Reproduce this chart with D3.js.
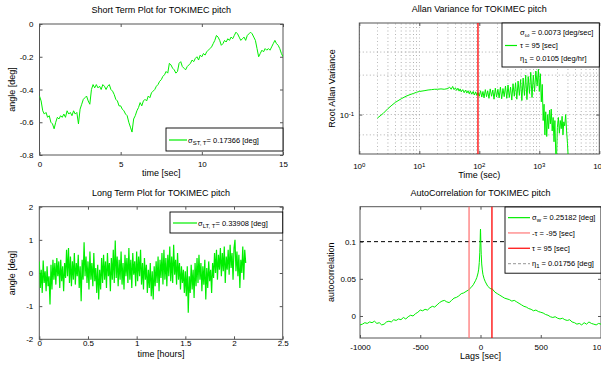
<!DOCTYPE html>
<html>
<head>
<meta charset="utf-8">
<script src="https://cdn.jsdelivr.net/npm/d3@7"></script>
<style>
  body { margin: 0; background: #fff; }
  svg text { font-family: "Liberation Sans", Arial, sans-serif; font-size: 8px; fill: #000; }
  svg text.lbl { font-size: 9px; }
</style>
</head>
<body>
<div id="wrapper"></div>
<script>
// ---- data ----
const sensor = "TOKIMEC pitch";

// short term: angle [deg] sampled every 0.1 s
const shortStep = 0.1;
const shortAngle = [
  -0.44,-0.47,-0.53,-0.55,-0.54,-0.57,-0.56,-0.6,-0.61,-0.64,
  -0.6,-0.57,-0.58,-0.56,-0.57,-0.55,-0.57,-0.53,-0.55,-0.54,
  -0.56,-0.53,-0.55,-0.54,-0.61,-0.52,-0.49,-0.46,-0.45,-0.44,
  -0.47,-0.49,-0.4,-0.37,-0.39,-0.37,-0.39,-0.38,-0.4,-0.37,
  -0.38,-0.4,-0.38,-0.37,-0.4,-0.41,-0.43,-0.46,-0.47,-0.5,
  -0.5,-0.52,-0.53,-0.55,-0.56,-0.6,-0.63,-0.66,-0.58,-0.56,
  -0.53,-0.51,-0.48,-0.5,-0.47,-0.46,-0.47,-0.44,-0.45,-0.42,
  -0.41,-0.4,-0.38,-0.37,-0.35,-0.34,-0.32,-0.31,-0.29,-0.3,
  -0.24,-0.25,-0.27,-0.28,-0.3,-0.29,-0.24,-0.23,-0.26,-0.27,
  -0.28,-0.26,-0.25,-0.24,-0.22,-0.23,-0.21,-0.2,-0.22,-0.19,
  -0.2,-0.18,-0.19,-0.17,-0.16,-0.15,-0.14,-0.12,-0.1,-0.07,
  -0.08,-0.1,-0.13,-0.12,-0.1,-0.11,-0.09,-0.1,-0.08,-0.09,
  -0.07,-0.05,-0.06,-0.08,-0.1,-0.09,-0.08,-0.1,-0.07,-0.06,
  -0.05,-0.06,-0.08,-0.1,-0.15,-0.2,-0.18,-0.16,-0.17,-0.15,
  -0.16,-0.15,-0.16,-0.14,-0.12,-0.1,-0.12,-0.13,-0.15,-0.18,
  -0.2
];

// long term: angle [deg] sampled every 0.01 h
const longStep = 0.01;
const longAngle = [
  0.35,-0.45,0.1,-0.6,0.38,-0.3,0.05,-0.55,0.2,-0.4,
  -0.1,-0.95,0.25,-0.5,0.4,-0.2,0.3,-0.35,0.45,-0.1,
  0.35,-0.45,0.4,-0.25,0.2,-0.55,0.3,-0.15,0.7,-0.1,
  0.75,-0.3,0.5,-0.4,0.35,-0.2,0.6,-0.35,0.3,-0.1,
  0.55,-0.45,0.2,-0.85,0.4,-0.2,0.93,-0.1,0.5,-0.3,
  0.35,-0.5,0.65,-0.2,0.3,-0.4,0.6,-0.25,0.15,-0.6,
  0.25,-0.8,0.1,-0.5,0.45,-0.3,0.55,-0.2,0.35,-0.45,
  0.6,-0.1,0.3,-0.55,0.45,-0.2,0.7,-0.3,0.98,-0.15,
  0.5,-0.4,0.4,-0.2,0.65,-0.35,0.3,-0.5,0.55,-0.1,
  0.45,-0.3,0.75,-0.2,0.4,-0.45,0.6,-0.05,0.35,-0.4,
  0.65,-0.25,0.5,-0.1,0.7,-0.35,0.3,-0.5,0.45,-0.2,
  0.25,-0.6,0.1,-0.45,0.3,-0.7,0.05,-0.8,0.2,-0.4,
  0.35,-0.3,0.5,-0.55,0.4,-0.15,0.6,-0.35,0.7,-0.2,
  0.45,-0.4,0.55,-0.1,0.8,-0.25,0.5,-0.3,0.85,-0.05,
  0.4,-0.35,0.6,-0.2,0.3,-0.5,0.2,-0.3,0.1,-0.6,
  0.05,-0.7,0.2,-1.2,-0.1,-0.6,0.25,-0.5,0.1,-0.75,
  0.3,-0.4,0.45,-0.3,0.55,-0.2,0.3,-0.55,0.2,-0.35,
  0.4,-0.8,0.15,-0.45,0.35,-0.25,0.1,-0.6,0.3,-0.15,
  0.6,0.0,0.7,-0.2,0.55,0.1,0.75,-0.1,0.6,0.05,
  0.8,-0.3,0.5,0.1,0.7,-0.05,0.85,0.15,0.6,-0.2,
  0.75,1.0,0.05,0.65,-0.1,0.55,-0.45,0.4,0.0,0.8,
  -0.2,0.7,0.3
];

// allan deviation vs cluster time [sec]
const allanTau = [
  2,2.5,3,3.5,4,5,6,7,8,9,
  10,12,14,16,18,20,23,26,30,32,
  34,36,38,40,42,44,46,48,50,53,
  56,59,62,65,68,71,75,79,83,87,
  91,95,100,105,110,115,120,126,132,138,
  145,152,160,168,176,185,194,204,214,225,
  236,248,260,273,287,301,316,332,348,365,
  383,402,422,443,465,488,512,538,565,593,
  622,653,686,720,756,794,834,876,920,966,
  1000,1040,1080,1120,1160,1200,1240,1280,1330,1380,
  1430,1480,1530,1580,1640,1700,1760,1820,1880,1940,
  2000,2080,2160,2240,2320,2400,2480,2560,2650,2750,
  2850,2950,3050,3150
];
const allanDev = [
  0.094,0.102,0.111,0.118,0.124,0.132,0.138,0.142,0.145,0.148,
  0.150,0.152,0.154,0.155,0.156,0.156,0.157,0.156,0.158,0.162,
  0.156,0.164,0.155,0.160,0.153,0.159,0.151,0.157,0.149,0.155,
  0.147,0.154,0.146,0.152,0.144,0.151,0.143,0.150,0.141,0.149,
  0.140,0.147,0.138,0.152,0.136,0.150,0.134,0.155,0.137,0.152,
  0.133,0.157,0.138,0.154,0.131,0.159,0.136,0.156,0.134,0.162,
  0.132,0.158,0.137,0.165,0.133,0.168,0.135,0.162,0.129,0.172,
  0.138,0.175,0.131,0.180,0.140,0.185,0.128,0.190,0.140,0.200,
  0.130,0.195,0.145,0.210,0.135,0.200,0.150,0.215,0.165,0.222,
  0.150,0.205,0.125,0.170,0.090,0.120,0.070,0.105,0.068,0.100,
  0.078,0.108,0.085,0.110,0.075,0.095,0.062,0.090,0.050,0.047,
  0.080,0.095,0.072,0.090,0.078,0.097,0.070,0.088,0.082,0.100,
  0.075,0.060,0.045,0.040
];
const allanGridY = [0.07, 0.1, 0.2, 0.3];

// autocorrelation vs lag [sec]
const acLags = [
  -1000,-980,-960,-940,-920,-900,-880,-860,-840,-820,
  -800,-780,-760,-740,-720,-700,-680,-660,-640,-620,
  -600,-580,-560,-540,-520,-500,-480,-460,-440,-420,
  -400,-380,-360,-340,-320,-300,-280,-260,-240,-220,
  -200,-180,-160,-140,-120,-100,-80,-60,-40,-30,
  -20,-15,-10,-6,-3,-1,0,1,3,6,
  10,15,20,30,40,60,80,100,120,140,
  160,180,200,220,240,260,280,300,320,340,
  360,380,400,420,440,460,480,500,520,540,
  560,580,600,620,640,660,680,700,720,740,
  760,780,800,820,840,860,880,900,920,940,
  960,980,1000
];
const acValues = [
  -0.012,-0.011,-0.009,-0.010,-0.008,-0.009,-0.007,-0.010,-0.009,-0.012,
  -0.011,-0.008,-0.007,-0.008,-0.005,-0.006,-0.004,-0.005,-0.002,-0.004,
  -0.001,0.001,0.000,0.003,0.005,0.008,0.007,0.009,0.008,0.011,
  0.013,0.012,0.015,0.018,0.020,0.021,0.019,0.018,0.021,0.024,
  0.025,0.027,0.030,0.031,0.033,0.035,0.038,0.042,0.048,0.052,
  0.058,0.063,0.072,0.085,0.100,0.114,0.117,0.112,0.098,0.083,
  0.070,0.062,0.056,0.050,0.046,0.040,0.037,0.036,0.032,0.030,
  0.028,0.026,0.024,0.023,0.022,0.020,0.021,0.019,0.017,0.015,
  0.013,0.012,0.010,0.009,0.007,0.008,0.006,0.005,0.004,0.002,
  0.001,-0.001,-0.002,-0.001,-0.003,-0.004,-0.003,-0.005,-0.006,-0.005,
  -0.008,-0.009,-0.011,-0.010,-0.012,-0.009,-0.011,-0.008,-0.010,-0.011,
  -0.012,-0.010,-0.011
];
const corrTime = 95;      // [sec]
const acLevel = 0.1;

const green = "#00ee00";
const axisColor = "#555";

let svg = d3.select("#wrapper").append("svg")
  .attr("width", 601).attr("height", 368);

// tspan helper: parts = [[text, "sub"|"sup"|undefined], ...]
function richText(sel, parts) {
  parts.forEach(([t, kind]) => {
    let ts = sel.append("tspan").text(t);
    if (kind == "sub") ts.attr("baseline-shift", "-30%").style("font-size", "6px");
    if (kind == "sup") ts.attr("baseline-shift", "40%").style("font-size", "6px");
  });
}

function frame(g, x, y, xTicks, yTicks, xFmt, yFmt, pad) {
  let [x0, x1] = x.range();
  let [yb, yt] = y.range();
  pad = pad || {};
  g.append("g").attr("transform", `translate(0,${yb})`)
    .call(d3.axisBottom(x).tickValues(xTicks).tickFormat(xFmt).tickSizeInner(-3).tickSizeOuter(0).tickPadding(pad.x ?? 6));
  g.append("g").attr("transform", `translate(0,${yt})`)
    .call(d3.axisTop(x).tickValues(xTicks).tickFormat("").tickSizeInner(-3).tickSizeOuter(0));
  g.append("g").attr("transform", `translate(${x0},0)`)
    .call(d3.axisLeft(y).tickValues(yTicks).tickFormat(yFmt).tickSizeInner(-3).tickSizeOuter(0).tickPadding(pad.y ?? 6));
  g.append("g").attr("transform", `translate(${x1},0)`)
    .call(d3.axisRight(y).tickValues(yTicks).tickFormat("").tickSizeInner(-3).tickSizeOuter(0));
  g.selectAll(".domain").remove();
  g.selectAll(".tick line").attr("stroke", axisColor);
  g.append("rect")
    .attr("x", x0).attr("y", yt).attr("width", x1 - x0).attr("height", yb - yt)
    .attr("fill", "none").attr("stroke", axisColor).attr("stroke-width", 1);
}

function clipFor(id, x, y) {
  let [x0, x1] = x.range();
  let [yb, yt] = y.range();
  svg.append("clipPath").attr("id", id).append("rect")
    .attr("x", x0).attr("y", yt).attr("width", x1 - x0).attr("height", yb - yt);
  return `url(#${id})`;
}

function titles(x, y, title, xLabel, yLabel, yLabelX, xLabelY) {
  let [x0, x1] = x.range();
  let [yb, yt] = y.range();
  svg.append("text").attr("class", "lbl").attr("x", (x0 + x1) / 2).attr("y", yt - 11)
    .attr("text-anchor", "middle").text(title);
  svg.append("text").attr("class", "lbl").attr("x", (x0 + x1) / 2).attr("y", xLabelY)
    .attr("text-anchor", "middle").text(xLabel);
  svg.append("text").attr("class", "lbl")
    .attr("transform", `translate(${yLabelX},${(yb + yt) / 2}) rotate(-90)`)
    .attr("text-anchor", "middle").text(yLabel);
}

function legend(x, y, w, rowH, rows, sample) {
  let g = svg.append("g");
  g.append("rect").attr("x", x).attr("y", y).attr("width", w).attr("height", rowH * rows.length + 5)
    .attr("fill", "#fff").attr("stroke", "#000").attr("stroke-width", 0.9);
  rows.forEach((r, i) => {
    let cy = y + 3 + rowH * (i + 0.5);
    if (r.color) {
      g.append("line").attr("x1", x + sample[0]).attr("x2", x + sample[1])
        .attr("y1", cy).attr("y2", cy)
        .attr("stroke", r.color).attr("stroke-width", 1.2)
        .attr("stroke-dasharray", r.dash || null);
    }
    richText(g.append("text").attr("x", x + sample[2]).attr("y", cy + 2.8).style("font-size", "7.5px"), r.label);
  });
}

// ---------- Short term ----------
let xShort = d3.scaleLinear().domain([0, 15]).range([39.5, 283]);
let yShort = d3.scaleLinear().domain([-0.8, 0]).range([155, 24]);
frame(svg.append("g"), xShort, yShort, [0, 5, 10, 15], [-0.8, -0.6, -0.4, -0.2, 0], d => String(d), d => String(d));
svg.append("path")
  .datum(shortAngle)
  .attr("clip-path", clipFor("clipShort", xShort, yShort))
  .attr("fill", "none").attr("stroke", green).attr("stroke-width", 1)
  .attr("d", d3.line().x((d, i) => xShort(i * shortStep)).y(d => yShort(d)));
titles(xShort, yShort, `Short Term Plot for ${sensor}`, "time [sec]", "angle [deg]", 14.7, 176);
legend(166, 128, 117, 18, [{ color: green, label: [["σ"], ["ST, T", "sub"], ["= 0.17366 [deg]"]] }], [3, 21, 22]);

// ---------- Allan variance ----------
let xAllan = d3.scaleLog().domain([1, 1e4]).range([359.3, 599.3]);
let yAllan = d3.scaleLog().domain([0.05, 0.5]).range([154, 23]);
let gAllan = svg.append("g");
gAllan.selectAll(".vgrid").data(xAllan.ticks()).join("line")
  .attr("x1", d => xAllan(d)).attr("x2", d => xAllan(d))
  .attr("y1", yAllan.range()[0]).attr("y2", yAllan.range()[1])
  .attr("stroke", "#444").attr("stroke-width", 0.6).attr("stroke-dasharray", "1,2.5").attr("opacity", 0.7);
gAllan.selectAll(".hgrid").data(allanGridY).join("line")
  .attr("x1", xAllan.range()[0]).attr("x2", xAllan.range()[1])
  .attr("y1", d => yAllan(d)).attr("y2", d => yAllan(d))
  .attr("stroke", "#444").attr("stroke-width", 0.6).attr("stroke-dasharray", "1,2.5").attr("opacity", 0.7);
frame(gAllan, xAllan, yAllan, [1, 10, 100, 1000, 10000], [0.1], "", "");
svg.append("path")
  .datum(d3.zip(allanTau, allanDev))
  .attr("clip-path", clipFor("clipAllan", xAllan, yAllan))
  .attr("fill", "none").attr("stroke", green).attr("stroke-width", 1)
  .attr("d", d3.line().x(d => xAllan(d[0])).y(d => yAllan(d[1])));
svg.append("line")
  .attr("x1", xAllan(corrTime)).attr("x2", xAllan(corrTime))
  .attr("y1", yAllan.range()[0]).attr("y2", yAllan.range()[1])
  .attr("stroke", "#ff0000").attr("stroke-width", 1.3);
[1, 10, 100, 1000, 10000].forEach(d => {
  richText(svg.append("text").attr("x", xAllan(d)).attr("y", 168.5).attr("text-anchor", "middle"),
    [["10"], [String(Math.round(Math.log10(d))), "sup"]]);
});
richText(svg.append("text").attr("x", 354).attr("y", yAllan(0.1) + 3).attr("text-anchor", "end"),
  [["10"], ["-1", "sup"]]);
titles(xAllan, yAllan, `Allan Variance for ${sensor}`, "Time (sec)", "Root Allan Variance", 334.7, 178);
legend(502, 23, 97.3, 13, [
  { label: [["σ"], ["ω", "sub"], [" = 0.0073 [deg/sec]"]] },
  { color: green, label: [["τ = 95 [sec]"]] },
  { label: [["η"], ["1", "sub"], [" = 0.0105 [deg/hr]"]] }
], [3, 15, 18]);

// ---------- Long term ----------
let xLong = d3.scaleLinear().domain([0, 2.5]).range([39.3, 282.7]);
let yLong = d3.scaleLinear().domain([-2, 2]).range([339.3, 206.7]);
frame(svg.append("g"), xLong, yLong, [0, 0.5, 1, 1.5, 2, 2.5], [-2, -1, 0, 1, 2], d => String(d), d => String(d), { x: 1.5 });
svg.append("path")
  .datum(longAngle)
  .attr("clip-path", clipFor("clipLong", xLong, yLong))
  .attr("fill", "none").attr("stroke", green).attr("stroke-width", 1.2)
  .attr("d", d3.line().x((d, i) => xLong(i * longStep)).y(d => yLong(d)));
titles(xLong, yLong, `Long Term Plot for ${sensor}`, "time [hours]", "angle [deg]", 14.7, 357);
legend(170, 212, 112.7, 16, [{ color: green, label: [["σ"], ["LT, T", "sub"], ["= 0.33908 [deg]"]] }], [3, 27, 28]);

// ---------- Autocorrelation ----------
let xAc = d3.scaleLinear().domain([-1000, 1000]).range([360, 601]);
let yAc = d3.scaleLinear().domain([-0.0296, 0.147]).range([338, 206.7]);
let gAc = svg.append("g");
frame(gAc, xAc, yAc, [-1000, -500, 0, 500, 1000], [0, 0.05, 0.1], d => String(d), d => String(d), { y: 4 });
let acClip = clipFor("clipAc", xAc, yAc);
svg.append("line")
  .attr("x1", xAc(-1000)).attr("x2", xAc(1000))
  .attr("y1", yAc(acLevel)).attr("y2", yAc(acLevel))
  .attr("stroke", "#000").attr("stroke-width", 1).attr("stroke-dasharray", "4,3");
svg.append("path")
  .datum(d3.zip(acLags, acValues))
  .attr("clip-path", acClip)
  .attr("fill", "none").attr("stroke", green).attr("stroke-width", 1)
  .attr("d", d3.line().x(d => xAc(d[0])).y(d => yAc(d[1])));
svg.append("line")
  .attr("x1", xAc(-corrTime)).attr("x2", xAc(-corrTime))
  .attr("y1", yAc.range()[0]).attr("y2", yAc.range()[1])
  .attr("stroke", "#ff7777").attr("stroke-width", 1.3);
svg.append("line")
  .attr("x1", xAc(corrTime)).attr("x2", xAc(corrTime))
  .attr("y1", yAc.range()[0]).attr("y2", yAc.range()[1])
  .attr("stroke", "#ff0000").attr("stroke-width", 1.3);
titles(xAc, yAc, `AutoCorrelation for ${sensor}`, "Lags [sec]", "autocorrelation", 333.7, 358.5);
legend(505, 207, 96, 15.3, [
  { color: green, label: [["σ"], ["w", "sub"], [" = 0.25182 [deg]"]] },
  { color: "#ff7777", label: [["-τ = -95 [sec]"]] },
  { color: "#ff0000", label: [["τ = 95 [sec]"]] },
  { color: "#aaaaaa", dash: "3,2", label: [["η"], ["1", "sub"], [" = 0.01756 [deg]"]] }
], [3, 25, 27]);
</script>
</body>
</html>
